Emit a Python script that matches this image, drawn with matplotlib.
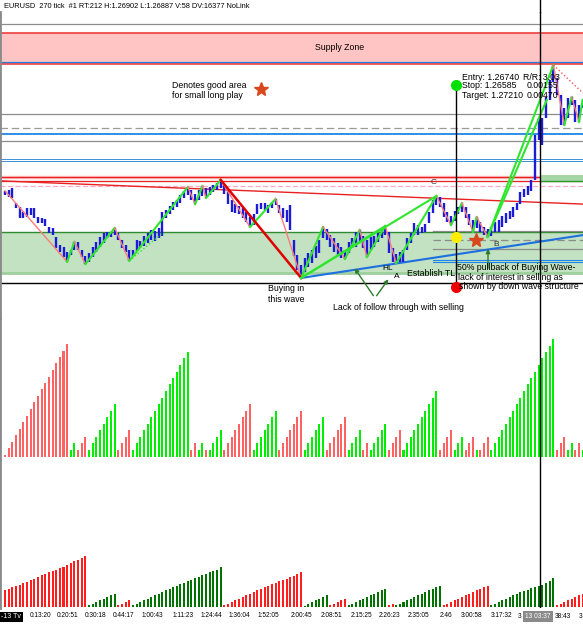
import matplotlib.pyplot as plt
import numpy as np

plt.rcParams["font.family"] = ["Liberation Sans", "DejaVu Sans"]

W, H = 583, 625

title = "EURUSD  270 tick  #1 RT:212 H:1.26902 L:1.26887 V:58 DV:16377 NoLink"

# price bars (tick bars), high / low
highs = [
    1.26883, 1.26886, 1.26892, 1.26845, 1.26833, 1.26818, 1.26830, 1.26830, 1.26830, 1.26802,
    1.26799, 1.26796, 1.26771, 1.26768, 1.26740, 1.26715, 1.26709, 1.26694, 1.26700, 1.26725,
    1.26725, 1.26700, 1.26681, 1.26690, 1.26709, 1.26725, 1.26740, 1.26752, 1.26756, 1.26756,
    1.26768, 1.26752, 1.26731, 1.26715, 1.26700, 1.26700, 1.26731, 1.26728, 1.26743, 1.26752,
    1.26762, 1.26759, 1.26768, 1.26818, 1.26824, 1.26836, 1.26849, 1.26855, 1.26870, 1.26883,
    1.26895, 1.26886, 1.26873, 1.26886, 1.26898, 1.26892, 1.26895, 1.26901, 1.26907, 1.26917,
    1.26904, 1.26886, 1.26855, 1.26842, 1.26836, 1.26830, 1.26818, 1.26802, 1.26811, 1.26842,
    1.26845, 1.26845, 1.26839, 1.26849, 1.26858, 1.26839, 1.26830, 1.26824, 1.26839, 1.26731,
    1.26684, 1.26653, 1.26675, 1.26690, 1.26700, 1.26712, 1.26731, 1.26771, 1.26765, 1.26746,
    1.26737, 1.26721, 1.26709, 1.26700, 1.26725, 1.26737, 1.26756, 1.26762, 1.26743, 1.26731,
    1.26740, 1.26743, 1.26752, 1.26762, 1.26774, 1.26756, 1.26706, 1.26687, 1.26694, 1.26700,
    1.26737, 1.26752, 1.26783, 1.26777, 1.26771, 1.26780, 1.26818, 1.26855, 1.26867, 1.26864,
    1.26845, 1.26818, 1.26805, 1.26821, 1.26833, 1.26845, 1.26833, 1.26811, 1.26793, 1.26802,
    1.26787, 1.26771, 1.26765, 1.26771, 1.26787, 1.26793, 1.26805, 1.26814, 1.26821, 1.26833,
    1.26845, 1.26880, 1.26889, 1.26898, 1.26917, 1.27056, 1.27109, 1.27109, 1.27174, 1.27227,
    1.27273, 1.27233, 1.27180, 1.27140, 1.27171, 1.27174, 1.27165, 1.27149, 1.27165,
]
lows = [
    1.26870, 1.26864, 1.26861, 1.26830, 1.26799, 1.26799, 1.26802, 1.26808, 1.26799, 1.26783,
    1.26783, 1.26774, 1.26752, 1.26746, 1.26706, 1.26694, 1.26678, 1.26663, 1.26684, 1.26700,
    1.26700, 1.26678, 1.26656, 1.26663, 1.26678, 1.26694, 1.26709, 1.26721, 1.26737, 1.26740,
    1.26746, 1.26731, 1.26706, 1.26694, 1.26666, 1.26681, 1.26697, 1.26706, 1.26712, 1.26721,
    1.26731, 1.26728, 1.26737, 1.26743, 1.26799, 1.26811, 1.26824, 1.26833, 1.26845, 1.26861,
    1.26870, 1.26855, 1.26842, 1.26855, 1.26867, 1.26861, 1.26870, 1.26880, 1.26886, 1.26892,
    1.26873, 1.26842, 1.26818, 1.26814, 1.26811, 1.26799, 1.26787, 1.26771, 1.26777, 1.26811,
    1.26827, 1.26824, 1.26814, 1.26830, 1.26839, 1.26814, 1.26799, 1.26787, 1.26762, 1.26681,
    1.26638, 1.26613, 1.26632, 1.26647, 1.26659, 1.26675, 1.26690, 1.26737, 1.26731, 1.26709,
    1.26694, 1.26681, 1.26675, 1.26672, 1.26690, 1.26706, 1.26709, 1.26725, 1.26706, 1.26678,
    1.26700, 1.26709, 1.26725, 1.26737, 1.26746, 1.26690, 1.26663, 1.26659, 1.26663, 1.26663,
    1.26700, 1.26721, 1.26746, 1.26746, 1.26752, 1.26756, 1.26783, 1.26814, 1.26839, 1.26833,
    1.26802, 1.26787, 1.26777, 1.26790, 1.26811, 1.26818, 1.26799, 1.26777, 1.26756, 1.26768,
    1.26756, 1.26746, 1.26740, 1.26743, 1.26756, 1.26756, 1.26771, 1.26783, 1.26796, 1.26802,
    1.26824, 1.26842, 1.26864, 1.26870, 1.26883, 1.26917, 1.27041, 1.27025, 1.27109, 1.27165,
    1.27221, 1.27180, 1.27087, 1.27087, 1.27109, 1.27149, 1.27097, 1.27097, 1.27140,
]

# zigzag swing points (bar index), alternating high / low, starting with a high
pivots = [0, 17, 19, 22, 30, 34, 50, 52, 54, 55, 59, 67, 74, 81, 87, 93, 97, 99,
          104, 107, 118, 122, 125, 128, 129, 132, 150, 153, 155, 157, 158]

# wave volume (middle pane), waves alternate down / up, starting down
mid_waves = [
    [0.25, 1.35, 2.25, 3.25, 4.15, 5.15, 6.15, 7.15, 8.15, 9.1, 10.1, 11, 12, 13, 14, 14.9, 15.9, 16.9],
    [1, 2],
    [1, 2, 2.9],
    [1, 2, 2.9, 4, 4.9, 5.9, 6.9, 7.9],
    [1, 2, 2.9, 4],
    [1, 2, 2.9, 4, 4.9, 5.9, 6.9, 7.9, 8.85, 9.85, 10.85, 11.85, 12.75, 13.75, 14.75, 15.65],
    [1, 2],
    [1, 2],
    [1],
    [1, 2, 2.9, 4],
    [1, 2, 2.9, 4, 4.9, 5.9, 6.9, 7.9],
    [1, 2, 2.9, 4, 4.9, 5.9, 6.9],
    [1, 2, 2.9, 4, 4.9, 5.9, 6.9],
    [1, 2, 2.9, 4, 4.9, 5.9],
    [1, 2, 2.9, 4, 4.9, 5.9],
    [1, 2, 2.9, 4],
    [1, 2],
    [1, 2, 2.9, 4, 4.9],
    [1, 2, 2.9, 4],
    [1, 2, 2.9, 4, 4.9, 5.9, 6.9, 7.9, 8.85, 9.85],
    [1, 2, 2.9, 4],
    [1, 2, 2.9],
    [1, 2, 2.9],
    [1],
    [1, 2, 2.9],
    [1, 2, 2.9, 4, 4.9, 5.9, 6.9, 7.9, 8.85, 9.85, 10.85, 11.85, 12.75, 13.75, 14.75, 15.65, 16.65, 17.65],
    [1, 2, 2.9],
    [1, 2],
    [1, 2],
    [1],
]

# cumulative wave volume (bottom pane), alternating down / up, starting down
bot_waves = [
    [16.7, 18.3, 19.7, 21.3, 22.3, 24, 25.3, 26.7, 28, 30, 31.7, 33.3, 34.7, 35.7, 37.3, 38.7,
     40, 41.7, 44, 45.7, 47.3, 49, 50.7],
    [1.7, 3.3, 5, 6.7, 8.3, 10, 11.7, 13],
    [1.7, 3.3, 5, 7],
    [1.7, 3.3, 5, 6.7, 8.3, 10, 11.7, 13.3, 15, 16.7, 18.3, 19.7, 21.3, 23, 24.3, 25.7, 27.3,
     29, 30.3, 31.7, 33.3, 34.7, 35.7, 37.3, 39.7],
    [1.7, 3.3, 5, 6.7, 8.3, 10, 11.7, 13.3, 15, 16.7, 18, 19.7, 21.3, 23, 24.3, 25.7, 27, 28.3,
     29.7, 31, 33, 35],
    [1.3, 3.3, 5, 6.7, 8.3, 10, 11.7],
    [1.7, 3.3, 5, 6.7, 8],
    [1.7, 3.3, 5, 6.7, 8.3, 10, 11.7, 13.3, 15, 16.7, 18],
    [1.7, 3.3],
    [1.7, 3.3, 5, 6.7, 8.3, 10, 11.7, 13.3, 15, 16.7, 18.3, 20, 21.3],
    [1.7, 3.3, 5, 6.7, 8.3, 10, 11.7, 13.3, 15, 16.7, 18.3, 20, 21.3],
    [1.7, 3.3, 5, 6.7, 8.3, 10, 11.7, 13, 14.7, 16, 17.3, 18.7, 20, 21.3, 22.3, 24, 25.7, 29],
    [1.7, 3.3, 5, 6.7, 8.3, 10, 11.7, 13.3],
]

time_pos = [9.6, 17.2, 24.9, 32.5, 40.2, 48.7, 56.3, 64, 71.9, 81.2, 89.2, 97.4,
            105.3, 113.2, 120.6, 127.7, 135.7]
time_labels = ["0:13:20", "0:20:51", "0:30:18", "0:44:17", "1:00:43", "1:11:23",
               "1:24:44", "1:36:04", "1:52:05", "2:00:45", "2:08:51", "2:15:25",
               "2:26:23", "2:35:05", "2:46", "3:00:58", "3:17:32"]

# risk / reward tool
entry, stop, target = 1.26740, 1.26585, 1.27210
rr_bar = 123.4
cursor_bar = 146.3

# horizontal price levels
supply_zone = (1.27276, 1.27372)
demand_zone = (1.26628, 1.26756)
gray_levels = [1.27400, 1.27120, 1.27038]
gray_dash_levels = [1.27079]
blue_levels = [1.27059]
blue_thin_levels = [1.26983, 1.26975]
red_levels = [1.26926, 1.26913]
right_gray = [1.26759, 1.26703]
right_gray_dash = [1.26731]
right_blue = [1.26669, 1.26661]

XMIN, XMAX = -1.37, 158.1
PTOP, PBOT = 1.274375, 1.264889


fig = plt.figure(figsize=(W / 100, H / 100), dpi=100)


def fx(x):
    return x / W


def fy(y):
    return 1 - y / H


def label(x, y, s, **kw):
    kw.setdefault("fontsize", 6.3)
    kw.setdefault("va", "center")
    fig.text(fx(x), fy(y), s, **kw)


def arrow(x0, y0, x1, y1, color="#2d7d2d"):
    fig.add_artist(plt.Annotation(
        "", xy=(fx(x1), fy(y1)), xycoords="figure fraction",
        xytext=(fx(x0), fy(y0)), textcoords="figure fraction",
        arrowprops=dict(arrowstyle="-|>", color=color, lw=1, mutation_scale=6)))


ax_p = fig.add_axes([0, fy(318), 1, (318 - 12) / H])
ax_v = fig.add_axes([0, fy(460), 1, (460 - 318) / H])
ax_c = fig.add_axes([0, fy(608), 1, (608 - 460) / H])

for ax in (ax_p, ax_v, ax_c):
    ax.set_xlim(XMIN, XMAX)
    ax.set_facecolor("none")
    for s in ax.spines.values():
        s.set_visible(False)
    ax.spines["left"].set_visible(True)
    ax.spines["left"].set_color("#8a8a8a")
    ax.spines["left"].set_linewidth(2)
    ax.set_yticks([])
    ax.axvline(cursor_bar, color="black", lw=1, zorder=8)

# cursor line also crosses the title strip
fig.add_artist(plt.Line2D([fx(540.2), fx(540.2)], [fy(0), fy(12)], color="black", lw=1))

ax_p.set_xticks([])
ax_v.set_xticks([])
ax_p.set_ylim(PBOT, PTOP)

# ---- price pane ----
ax_p.axhspan(*supply_zone, color="#ffc4c4", lw=0, zorder=1)
ax_p.axhline(supply_zone[1], color="#ee3030", lw=1.1, zorder=2)
ax_p.axhline(supply_zone[0], color="#ee3030", lw=1.1, zorder=2)
ax_p.axhline(1.27284, color="#1e7fe0", lw=0.9, zorder=2)

ax_p.axhspan(*demand_zone, color="#c2e2c2", lw=0, zorder=1)
ax_p.axhline(demand_zone[1], color="#2e8b2e", lw=1, zorder=2)
ax_p.axhline(demand_zone[0], color="#9ccf9c", lw=2, zorder=2)

for lv in gray_levels:
    ax_p.axhline(lv, color="#8c8c8c", lw=0.9, zorder=2)
for lv in gray_dash_levels:
    ax_p.axhline(lv, color="#9a9a9a", lw=0.9, ls=(0, (6, 3)), zorder=2)
for lv in blue_levels:
    ax_p.axhline(lv, color="#1e86e8", lw=1.3, zorder=2)
for lv in blue_thin_levels:
    ax_p.axhline(lv, color="#3a8fd8", lw=0.7, zorder=2)
ax_p.axhline(red_levels[0], color="#ffc0c0", lw=2.5, zorder=2)
for lv in red_levels:
    ax_p.axhline(lv, color="#e82020", lw=0.9, zorder=2)
ax_p.axhline(1.26898, color="#ffa8c8", lw=0.9, ls=(0, (4, 2)), zorder=2)
ax_p.axhline(1.26597, color="black", lw=1, zorder=2)

x_right = 117.1
for lv in right_gray:
    ax_p.plot([x_right, XMAX], [lv, lv], color="#8c8c8c", lw=0.9, zorder=2)
for lv in right_gray_dash:
    ax_p.plot([x_right, XMAX], [lv, lv], color="#8c8c8c", lw=0.9, ls=(0, (6, 3)), zorder=2)
for lv in right_blue:
    ax_p.plot([x_right, XMAX], [lv, lv], color="#1e86e8", lw=0.8, zorder=2)

ax_p.fill_between([cursor_bar, XMAX], 1.26913, 1.26932, color="#a6d6a6", lw=0, zorder=3)
ax_p.plot([cursor_bar, XMAX], [1.26913, 1.26913], color="#2e9a2e", lw=1, zorder=3)

# sloping resistance and rising trend line
ax_p.plot([XMIN, XMAX], [1.26914, 1.26842], color="#e82020", lw=1, zorder=2)
ax_p.plot([81, XMAX], [lows[81], 1.26746], color="#1e6fe0", lw=1.5, zorder=4)

idx = np.arange(len(highs))
ax_p.vlines(idx, lows, highs, color="#1c1cd8", lw=1.7, zorder=4)

# zigzag
zz_price = [highs[i] if k % 2 == 0 else lows[i] for k, i in enumerate(pivots)]
for k in range(len(pivots) - 1):
    down = k % 2 == 0
    ax_p.plot(pivots[k:k + 2], zz_price[k:k + 2],
              color="#ff7a7a" if down else "#2ee62e",
              lw=1 if down else 1.5, zorder=5)

# hand drawn wave lines
ax_p.plot([59, 81], [highs[59], lows[81]], color="#e00000", lw=1.8, zorder=5)
ax_p.plot([81, 104], [lows[81], highs[104]], color="#2ee62e", lw=1.5, zorder=5)
ax_p.plot([81, 118], [lows[81], highs[118]], color="#2ee62e", lw=1.5, zorder=5)
ax_p.plot([132, 148.2], [lows[132], 1.27165], color="#2ee62e", lw=1.5, zorder=5)
ax_p.plot([34, 43], [lows[34], 1.26752], color="#2ee62e", lw=1, ls=":", zorder=5)
ax_p.plot([143.6, 148.2], [1.27050, 1.27165], color="#2ee62e", lw=1, ls=":", zorder=5)
ax_p.plot([150, 158.1], [highs[150], 1.27186], color="#ff5050", lw=1, ls=":", zorder=5)

# risk / reward tool
ax_p.plot([rr_bar, rr_bar], [stop, target], color="black", lw=1, zorder=6)
ax_p.plot(rr_bar, target, "o", ms=7, color="#00e000", zorder=7)
ax_p.plot(rr_bar, entry, "o", ms=7, color="#ffee00", zorder=7)
ax_p.plot(rr_bar, stop, "o", ms=7, color="#ee0000", zorder=7)

ax_p.plot(70.0, 1.27199, "*", ms=10, color="#d8481c", zorder=7)
ax_p.plot(128.8, 1.26731, "*", ms=10, color="#d8481c", zorder=7)


# ---- wave volume panes ----
def wave_bars(waves, up_color, down_color):
    heights, colors = [], []
    for k, w in enumerate(waves):
        heights += w
        colors += [down_color if k % 2 == 0 else up_color] * len(w)
    return np.arange(len(heights)), heights, colors


xv, hv, cv = wave_bars(mid_waves, "#00ee00", "#ff6262")
ax_v.bar(xv, hv, width=0.55, color=cv, lw=0)
ax_v.set_ylim(-0.5, 20.8)

xc, hc, cc = wave_bars(bot_waves, "#007200", "#ff1e1e")
ax_c.bar(xc, hc, width=0.55, color=cc, lw=0)
ax_c.set_ylim(-1, 147)
ax_c.set_xticks(time_pos)
ax_c.set_xticklabels(time_labels, fontsize=4.7)
ax_c.tick_params(axis="x", length=0, pad=3)

# ---- text ----
label(4, 6, title, fontsize=5.3)
label(340, 48, "Supply Zone", ha="center")
label(172, 85, "Denotes good area")
label(172, 95, "for small long play")
label(462, 77, "Entry: 1.26740")
label(462, 86, "Stop: 1.26585")
label(462, 95.5, "Target: 1.27210")
label(523, 77, "R/R: 3.03")
label(526.5, 86, "0.00155")
label(526.5, 95.5, "0.00470")
label(431, 183, "C", fontsize=6, color="#333333")
label(493, 244, "B", fontsize=6, color="#333333")
label(382, 268, "HL", fontsize=6)
label(394, 277, "A", fontsize=6)
label(407, 273, "Establish TL")
label(268, 289, "Buying in")
label(268, 300, "this wave")
label(333, 308, "Lack of follow through with selling")
label(457, 267.5, "50% pullback of Buying Wave-")
label(458, 277, "lack of interest in selling as")
label(459, 286.5, "shown by down wave structure")

arrow(375, 298, 353, 266)
arrow(375, 298, 390, 277)
arrow(488, 271, 488, 246)

label(1, 617, "-13 Tv", fontsize=5, color="white",
      bbox=dict(boxstyle="square,pad=0.25", fc="black", ec="none"))
label(518, 616.5, "3", fontsize=4.7)
label(538, 616.5, "13 03:37", fontsize=4.8, color="white", ha="center",
      bbox=dict(boxstyle="square,pad=0.35", fc="#8a8a8a", ec="none"))
label(555, 616.5, "38:43", fontsize=4.7)
label(579, 616.5, "3", fontsize=4.7)

fig.savefig("out.png", dpi=100)
